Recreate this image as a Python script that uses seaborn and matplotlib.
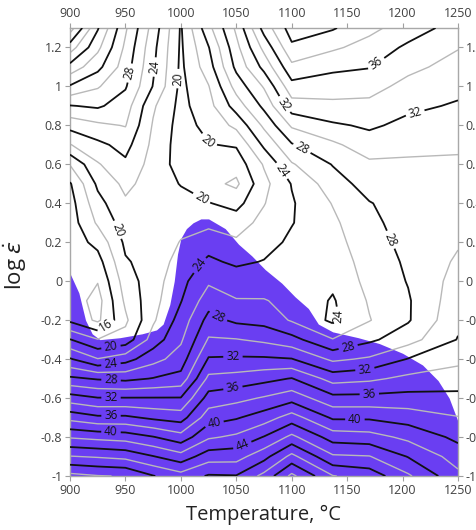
import numpy as np
import matplotlib
matplotlib.use("Agg")
import matplotlib.pyplot as plt
import seaborn as sns

# Grid axes of the processing map
temperature = [900, 925, 950, 975, 1000, 1025, 1050, 1075, 1100, 1137, 1170, 1205, 1250]
log_strain_rate = [-1.0, -0.9, -0.8, -0.7, -0.6, -0.5, -0.4, -0.3, -0.2, -0.1, 0.0,
                   0.1, 0.2, 0.3, 0.4, 0.5, 0.6, 0.7, 0.8, 0.9, 1.0, 1.1, 1.2, 1.3]

# Power dissipation efficiency (%) along log strain rate, one list per temperature
eta_900 = [50.6, 46.1, 41.8, 37.3, 32.9, 28.4, 24.2, 20.1, 15.6, 15.2, 15.1, 15.0,
           14.9, 15.0, 15.2, 15.8, 18.1, 21.9, 24.7, 27.9, 31.8, 35.3, 39.0, 43.0]
eta_925 = [50.1, 45.8, 41.4, 36.4, 32.1, 27.8, 22.1, 18.1, 13.6, 13.2, 14.1, 15.2,
           16.6, 18.3, 19.3, 20.4, 21.8, 23.5, 25.6, 28.3, 30.2, 32.6, 34.5, 36.2]
eta_950 = [49.9, 45.4, 41.1, 36.4, 32.1, 27.5, 23.2, 18.8, 17.6, 18.4, 19.0, 19.8,
           20.4, 21.0, 21.7, 22.5, 23.6, 24.7, 26.1, 27.0, 28.2, 29.0, 29.6, 30.3]
eta_975 = [48.1, 44.1, 40.1, 35.6, 32.1, 28.1, 25.3, 22.9, 21.7, 21.3, 21.1, 20.8,
           20.7, 20.7, 20.8, 21.1, 21.2, 21.5, 21.8, 22.3, 23.9, 24.3, 24.6, 25.2]
eta_1000 = [46.8, 42.8, 38.8, 35.1, 32.1, 28.7, 26.9, 25.7, 24.8, 23.9, 23.4, 22.8,
            22.1, 21.4, 20.7, 19.9, 19.2, 19.1, 19.2, 19.4, 19.5, 19.6, 19.7, 19.8]
eta_1025 = [48.2, 45.1, 41.7, 39.1, 36.8, 34.5, 32.2, 30.2, 28.7, 27.1, 25.7, 24.4,
            23.1, 21.5, 20.1, 18.6, 19.0, 19.9, 20.6, 21.3, 21.9, 23.1, 23.9, 25.4]
eta_1050 = [48.1, 45.2, 42.4, 39.8, 37.4, 34.8, 32.3, 30.1, 27.6, 26.1, 25.2, 23.6,
            22.3, 21.1, 19.3, 17.6, 18.8, 20.2, 22.5, 24.9, 26.8, 28.5, 29.4, 30.4]
eta_1075 = [50.6, 47.3, 44.1, 41.0, 38.2, 35.4, 32.3, 29.6, 27.3, 26.1, 25.1, 24.1,
            23.2, 22.6, 21.9, 21.4, 22.2, 24.4, 26.4, 28.5, 30.2, 32.6, 34.6, 36.8]
eta_1100 = [54.5, 50.6, 46.5, 42.9, 39.2, 36.1, 32.1, 28.7, 25.8, 25.5, 25.2, 24.8,
            24.4, 23.9, 23.8, 24.1, 25.8, 27.8, 30.3, 33.1, 35.3, 37.5, 39.6, 41.0]
eta_1137 = [50.1, 46.3, 43.1, 39.7, 36.6, 33.2, 29.6, 26.1, 23.6, 23.8, 24.4, 24.8,
            25.2, 25.6, 26.1, 27.1, 28.1, 29.6, 31.7, 33.6, 34.8, 36.5, 38.3, 40.2]
eta_1170 = [49.2, 46.1, 42.8, 39.7, 36.6, 33.6, 30.3, 27.6, 25.9, 26.2, 26.6, 26.9,
            27.3, 27.6, 27.9, 28.8, 29.6, 31.1, 32.3, 33.5, 34.7, 36.1, 37.3, 38.5]
eta_1205 = [46.3, 43.9, 41.5, 39.1, 36.7, 34.5, 32.1, 29.2, 27.8, 27.8, 28.1, 28.3,
            28.5, 28.7, 28.9, 29.2, 29.7, 30.5, 31.5, 32.4, 33.4, 34.5, 35.6, 37.1]
eta_1250 = [42.5, 41.1, 39.5, 38.1, 36.5, 35.1, 33.4, 32.1, 31.6, 31.2, 30.8, 30.3,
            29.8, 29.3, 29.1, 29.3, 29.7, 30.3, 31.1, 31.8, 32.5, 33.3, 34.1, 35.1]

# Upper limit of the flow-instability domain (instability parameter < 0)
instability_T = [900, 908, 914, 920, 927, 945, 965, 978, 984, 990, 994, 997, 1000,
                 1005, 1011, 1018, 1025, 1040, 1052, 1064, 1076, 1091, 1103, 1115,
                 1124, 1137, 1160, 1179, 1200, 1218, 1232, 1242, 1250]
instability_log_rate = [0.04, -0.06, -0.20, -0.27, -0.30, -0.29, -0.27, -0.25, -0.22,
                        -0.12, 0.00, 0.14, 0.22, 0.27, 0.30, 0.32, 0.32, 0.27, 0.19,
                        0.13, 0.06, -0.01, -0.08, -0.14, -0.22, -0.26, -0.29, -0.32,
                        -0.37, -0.43, -0.51, -0.60, -0.72]

x_ticks = [900, 950, 1000, 1050, 1100, 1150, 1200, 1250]
y_ticks = [-1, -0.8, -0.6, -0.4, -0.2, 0, 0.2, 0.4, 0.6, 0.8, 1, 1.2]
y_tick_labels = ["-1", "-0.8", "-0.6", "-0.4", "-0.2", "0", "0.2", "0.4", "0.6",
                 "0.8", "1", "1.2"]

gray_levels = list(range(14, 56, 4))
black_levels = list(range(16, 56, 4))

label_spots = [(953, 1.07), (976, 1.10), (998, 1.04), (1025, 0.72), (1017, 0.41),
               (941, 0.26), (1094, 0.91), (1109, 0.68), (1092, 0.57), (1176, 1.12),
               (1212, 0.85), (1188, 0.21), (1015, 0.09), (1033, -0.19),
               (1142, -0.18), (936, -0.26), (937, -0.34), (937, -0.43), (937, -0.51),
               (937, -0.60), (937, -0.69), (937, -0.77), (1047, -0.39), (1047, -0.55),
               (1030, -0.73), (1053, -0.81), (1151, -0.34), (1166, -0.45),
               (1170, -0.58), (1157, -0.72)]

sns.set_theme(style="white")
plt.rcParams["font.family"] = ["Open Sans", "DejaVu Sans"]
plt.rcParams["mathtext.fontset"] = "dejavusans"

eta = np.column_stack([eta_900, eta_925, eta_950, eta_975, eta_1000, eta_1025,
                       eta_1050, eta_1075, eta_1100, eta_1137, eta_1170, eta_1205,
                       eta_1250])
TT, LL = np.meshgrid(temperature, log_strain_rate)

fig = plt.figure(figsize=(4.76, 5.30), dpi=100)
ax = fig.add_axes([70 / 476, 54 / 530, 388 / 476, 448 / 530])

ax.fill_between(instability_T, -1.0, instability_log_rate, color="#6a3ef2",
                linewidth=0, zorder=1)
ax.contour(TT, LL, eta, levels=gray_levels, colors="#b9b9b9", linewidths=1.0,
           zorder=2)
cs = ax.contour(TT, LL, eta, levels=black_levels, colors="#111111",
                linewidths=1.3, zorder=3)
ax.clabel(cs, manual=label_spots, fmt="%d", fontsize=8.5, inline=True,
          inline_spacing=3)

ax.set_xlim(900, 1250)
ax.set_ylim(-1.0, 1.3)
ax.set_xticks(x_ticks)
ax.set_yticks(y_ticks)
ax.set_yticklabels(y_tick_labels)
ax.tick_params(axis="both", which="both", direction="out", length=3.5, width=0.8,
               color="#a0a0a0", labelsize=9, labelcolor="#404040",
               top=True, labeltop=True, right=True, labelright=True,
               bottom=True, left=True, pad=2)
for spine in ax.spines.values():
    spine.set_color("#a8a8a8")
    spine.set_linewidth(1.0)

ax.set_xlabel("Temperature, °C", fontsize=14.5, color="#222222", labelpad=6)
ax.set_ylabel(r"log $\dot{\varepsilon}$", fontsize=16, color="#222222")
ax.yaxis.set_label_coords(-0.105, 0.47)

fig.savefig("out.png", dpi=100)
